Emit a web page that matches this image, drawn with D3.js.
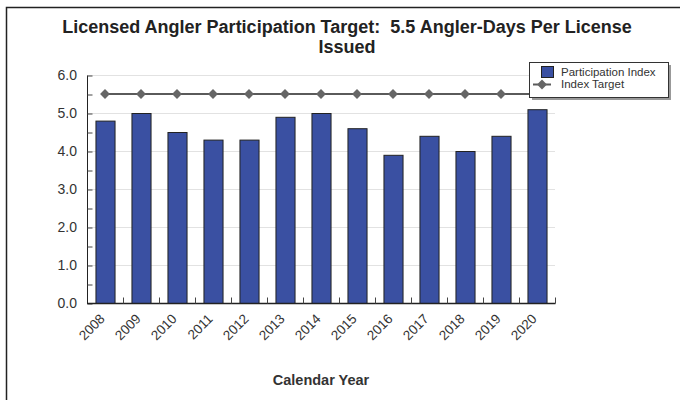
<!DOCTYPE html>
<html><head><meta charset="utf-8">
<script src="https://cdn.jsdelivr.net/npm/d3@7"></script>
<style>body{margin:0;background:#fff}svg{display:block}text{font-family:"Liberation Sans",Arial,sans-serif}</style>
</head><body><svg id="c" width="680" height="400"></svg>
<script>
const years = ["2008","2009","2010","2011","2012","2013","2014","2015","2016","2017","2018","2019","2020"];
const participation = [4.8,5.0,4.5,4.3,4.3,4.9,5.0,4.6,3.9,4.4,4.0,4.4,5.1];
const target = [5.5,5.5,5.5,5.5,5.5,5.5,5.5,5.5,5.5,5.5,5.5,5.5,5.5];
const yTicks = [0,1,2,3,4,5,6];

const svg = d3.select("#c");
const m = {l:87, r:555, t:75, b:303};
const x = d3.scaleBand().domain(years).range([m.l, m.r]).paddingInner(0.47).paddingOuter(0.235);
const xb = d3.scaleBand().domain(years).range([m.l, m.r]);
const y = d3.scaleLinear().domain([0,6]).range([m.b, m.t]);

// frame
svg.append("path").attr("d","M6.5,400 V7.5 H680").attr("fill","none").attr("stroke","#222").attr("stroke-width",1.5);

// title
const t = svg.append("text").attr("x",347).attr("y",33).attr("text-anchor","middle")
  .attr("font-size",18).attr("font-weight","bold").attr("fill","#222").style("white-space","pre");
t.append("tspan").attr("x",347).text("Licensed Angler Participation Target:  5.5 Angler-Days Per License");
t.append("tspan").attr("x",347).attr("dy",20).text("Issued");

// grid
svg.append("g").selectAll("line").data(yTicks.slice(1)).join("line")
  .attr("x1",m.l).attr("x2",m.r).attr("y1",d=>y(d)+0.5).attr("y2",d=>y(d)+0.5)
  .attr("stroke","#e2e2e2").attr("stroke-width",1);

// bars
svg.append("g").selectAll("rect").data(participation).join("rect")
  .attr("x",(d,i)=>x(years[i])+0.5).attr("y",d=>y(d)+0.5)
  .attr("width",x.bandwidth()).attr("height",d=>y(0)-y(d))
  .attr("fill","#3a50a2").attr("stroke","#222").attr("stroke-width",1);

// y axis
const ya = d3.axisLeft(y).tickValues(d3.range(0,6.01,0.5)).tickSize(-5).tickFormat("");
const yg = svg.append("g").attr("transform",`translate(${m.l+0.5},0.5)`).call(ya);
yg.select(".domain").attr("stroke","#222").attr("d",`M0,${m.t}V${m.b}`);
yg.selectAll(".tick line").attr("stroke","#444");
svg.append("g").selectAll("text").data(yTicks).join("text")
  .attr("x",77).attr("y",d=>y(d)+5).attr("text-anchor","end")
  .attr("font-size",14).attr("fill","#333").text(d=>d.toFixed(1));

// x axis
const xg = svg.append("g").attr("transform",`translate(0,${m.b+0.5})`);
xg.append("line").attr("x1",m.l).attr("x2",m.r+0.5).attr("y1",0).attr("y2",0).attr("stroke","#222").attr("stroke-width",1.5);
xg.selectAll("line.tk").data(years).join("line").attr("class","tk")
  .attr("x1",d=>xb(d)+xb.bandwidth()+0.5).attr("x2",d=>xb(d)+xb.bandwidth()+0.5)
  .attr("y1",0).attr("y2",-6).attr("stroke","#444");
svg.append("g").selectAll("text").data(years).join("text")
  .attr("transform",d=>`translate(${xb(d)+xb.bandwidth()/2-6},${m.b+10}) rotate(-45)`)
  .attr("text-anchor","end").attr("dy","0.7em").attr("font-size",13.5).attr("fill","#333").text(d=>d);

// target line
const cx = d=>xb(d)+xb.bandwidth()/2;
svg.append("path").datum(target)
  .attr("d",d3.line().x((d,i)=>cx(years[i])).y(d=>y(d)))
  .attr("fill","none").attr("stroke","#5a5a5a").attr("stroke-width",2);
svg.append("g").selectAll("path").data(target).join("path")
  .attr("transform",(d,i)=>`translate(${cx(years[i])},${y(d)}) rotate(45)`)
  .attr("d","M-3.5,-3.5h7v7h-7z").attr("fill","#666");

// x title
svg.append("text").attr("x",321).attr("y",385).attr("text-anchor","middle")
  .attr("font-size",14.5).attr("font-weight","bold").attr("fill","#333").text("Calendar Year");

// legend
const lg = svg.append("g");
lg.append("rect").attr("x",532).attr("y",65).attr("width",139).attr("height",35).attr("fill","#999");
lg.append("rect").attr("x",529.5).attr("y",62.5).attr("width",139).attr("height",35).attr("fill","#fff").attr("stroke","#333");
lg.append("rect").attr("x",541.5).attr("y",66.5).attr("width",12).attr("height",11).attr("fill","#3a50a2").attr("stroke","#222");
lg.append("text").attr("x",561).attr("y",76).attr("font-size",11.5).attr("fill","#333").text("Participation Index");
lg.append("line").attr("x1",533).attr("x2",551).attr("y1",84.5).attr("y2",84.5).attr("stroke","#5a5a5a").attr("stroke-width",2);
lg.append("path").attr("transform","translate(542,84.5) rotate(45)").attr("d","M-3.5,-3.5h7v7h-7z").attr("fill","#666");
lg.append("text").attr("x",561).attr("y",88).attr("font-size",11.5).attr("fill","#333").text("Index Target");
</script></body></html>
